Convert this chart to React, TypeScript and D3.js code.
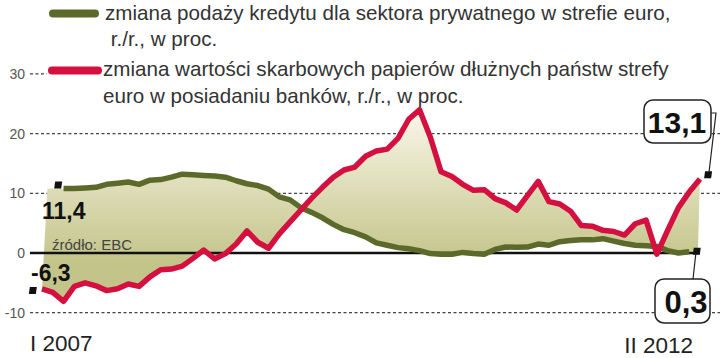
import React from "react";
import * as d3 from "d3";

// ---- data (monthly, month 0 = I 2007, month 61 = II 2012) ----
const redValues: number[] = [
  -6.0, -6.6, -8.1, -5.6, -5.0, -5.5, -6.3, -6.0, -5.2, -5.6,
  -4.0, -2.8, -2.7, -2.2, -0.9, 0.5, -1.0, -0.1, 1.5, 3.7,
  1.8, 0.8, 3.2, 5.2, 7.2, 9.2, 11.0, 12.7, 13.9, 14.4,
  16.2, 17.1, 17.4, 19.2, 22.4, 24.0, 19.4, 13.6, 12.8, 11.5,
  10.5, 10.6, 9.1, 8.4, 7.2, 9.6, 12.0, 8.6, 8.2, 7.0,
  4.6, 4.5, 3.8, 3.6, 3.0, 4.9, 5.5, -0.2, 3.8, 7.6,
  10.2, 12.4,
];
const greenStartMonth = 2;
const greenValues: number[] = [
  10.8, 10.8, 10.9, 11.0, 11.5, 11.7, 11.9, 11.5, 12.2, 12.3,
  12.7, 13.2, 13.1, 13.0, 12.9, 12.7, 12.1, 11.6, 11.3, 10.7,
  9.4, 8.9, 7.6, 6.8, 5.9, 4.8, 3.9, 3.4, 2.7, 1.7,
  1.3, 0.9, 0.7, 0.4, -0.1, -0.2, -0.2, 0.1, -0.1, -0.2,
  0.6, 1.0, 0.95, 1.0, 1.5, 1.3, 1.9, 2.1, 2.2, 2.2,
  2.4, 2.0, 1.6, 1.3, 1.2, 1.1, 0.4, 0.0, 0.2,
];
const yTicks: number[] = [30, 20, 10, -10];
const yTickLabels: string[] = ["30", "20", "10", "0", "-10"];
const yLabelValues: number[] = [30, 20, 10, 0, -10];
const xLabels: string[] = ["I 2007", "II 2012"];
const legendGreen: string[] = [
  "zmiana podaży kredytu dla sektora prywatnego w strefie euro,",
  " r./r., w proc.",
];
const legendRed: string[] = [
  "zmiana wartości skarbowych papierów dłużnych państw strefy",
  "euro w posiadaniu banków, r./r., w proc.",
];
const firstGreenLabel = { value: 11.4, text: "11,4" };
const firstRedLabel = { value: -6.3, text: "-6,3" };
const lastRedLabel = { value: 13.1, text: "13,1" };
const lastGreenLabel = { value: 0.3, text: "0,3" };
const sourceText = "źródło: EBC";

const W = 720;
const H = 358;
const GREEN = "#5b6a2a";
const RED = "#d3103f";
const FONT = "'Liberation Sans', Arial, sans-serif";

export default function App() {
  const x = d3.scaleLinear().domain([0, redValues.length - 1]).range([42, 700]);
  const y = d3.scaleLinear().domain([-10, 30]).range([312.7, 73.9]);

  type P = { m: number; v: number };
  const redPts: P[] = redValues.map((v, i) => ({ m: i, v }));
  const greenPts: P[] = greenValues.map((v, i) => ({ m: greenStartMonth + i, v }));

  const line = d3
    .line<P>()
    .x((d) => x(d.m))
    .y((d) => y(d.v));

  const fillTop: P[] = [
    { m: 0.5, v: greenValues[0] },
    ...greenPts,
    { m: redValues.length - 1.2, v: greenValues[greenValues.length - 1] },
  ];
  const fillPts = fillTop.concat(redPts.slice().reverse());
  const fillPath = line(fillPts) + "Z";

  const gridX0 = 30;
  const marker = (cx: number, cy: number, key: string) => (
    <rect
      key={key}
      x={cx - 3.5}
      y={cy - 3.5}
      width={7}
      height={7}
      fill="#111"
      transform={`skewX(-8) translate(${cy * Math.tan((8 * Math.PI) / 180)},0)`}
    />
  );

  const mFirstGreen = { x: x(1.5), y: y(firstGreenLabel.value) };
  const mFirstRed = { x: x(-0.85), y: y(firstRedLabel.value) };
  const mLastRed = { x: x(61.75), y: y(lastRedLabel.value) };
  const mLastGreen = { x: x(60.7), y: y(lastGreenLabel.value) };

  return (
    <div style={{ position: "absolute", left: 0, top: 0 }}>
      <svg width={W} height={H} style={{ display: "block", background: "#fff" }}>
        <defs>
          <linearGradient id="fillGrad" gradientUnits="userSpaceOnUse" x1={0} y1={105} x2={0} y2={262}>
            <stop offset="0" stopColor="#fbf9ec" />
            <stop offset="1" stopColor="#c3c48a" />
          </linearGradient>
        </defs>

        {/* gridlines */}
        {yTicks.map((t) => (
          <line
            key={t}
            x1={gridX0}
            x2={t === 30 ? 47 : W}
            y1={y(t)}
            y2={y(t)}
            stroke="#444"
            strokeWidth={1.2}
            strokeDasharray="3,2.5"
          />
        ))}

        {/* y tick labels */}
        {yLabelValues.map((v, i) => (
          <text
            key={v}
            x={25}
            y={y(v) + 5}
            textAnchor="end"
            fontFamily={FONT}
            fontSize={14}
            fill="#555"
          >
            {yTickLabels[i]}
          </text>
        ))}

        {/* fill between series */}
        <path d={fillPath} fill="url(#fillGrad)" />

        {/* zero line */}
        <line x1={gridX0} x2={700} y1={y(0)} y2={y(0)} stroke="#111" strokeWidth={2.5} />

        <text x={52} y={250} fontFamily={FONT} fontSize={15} fill="#444">
          {sourceText}
        </text>

        {/* series lines */}
        <path
          d={line(greenPts) || ""}
          fill="none"
          stroke={GREEN}
          strokeWidth={5.5}
          strokeLinejoin="round"
        />
        <path
          d={line(redPts) || ""}
          fill="none"
          stroke={RED}
          strokeWidth={5.5}
          strokeLinejoin="round"
        />

        {/* legend */}
        <line x1={53} x2={95} y1={13.5} y2={13.5} stroke={GREEN} strokeWidth={8} strokeLinecap="round" />
        <line x1={52} x2={98} y1={70.5} y2={70.5} stroke={RED} strokeWidth={8} strokeLinecap="round" />
        {legendGreen.map((s, i) => (
          <text key={s} x={105} y={19.5 + i * 26} fontFamily={FONT} fontSize={20.6} fill="#333" style={{ whiteSpace: "pre" }}>
            {s}
          </text>
        ))}
        {legendRed.map((s, i) => (
          <text key={s} x={103} y={75.5 + i * 27} fontFamily={FONT} fontSize={20.6} fill="#333">
            {s}
          </text>
        ))}

        {/* start annotations */}
        {marker(mFirstGreen.x, mFirstGreen.y, "m1")}
        {marker(mFirstRed.x, mFirstRed.y, "m2")}
        <text x={42} y={219} fontFamily={FONT} fontWeight="bold" fontSize={23} fill="#111">
          {firstGreenLabel.text}
        </text>
        <text x={31} y={281} fontFamily={FONT} fontWeight="bold" fontSize={23} fill="#111">
          {firstRedLabel.text}
        </text>

        {/* end annotations */}
        {marker(mLastRed.x, mLastRed.y, "m3")}
        {marker(mLastGreen.x, mLastGreen.y, "m4")}
        <polyline
          points={`711,113 716,113 ${mLastRed.x + 1},${mLastRed.y - 3}`}
          fill="none"
          stroke="#222"
          strokeWidth={1.2}
        />
        <line x1={mLastGreen.x - 1} y1={mLastGreen.y + 3} x2={693} y2={279} stroke="#222" strokeWidth={1.2} />
        <rect x={644} y={100} width={67} height={43} rx={9} fill="#fff" stroke="#222" strokeWidth={1.5} />
        <text x={677} y={133} textAnchor="middle" fontFamily={FONT} fontWeight="bold" fontSize={30} fill="#111">
          {lastRedLabel.text}
        </text>
        <rect x={655} y={279} width={55} height={44} rx={9} fill="#fff" stroke="#222" strokeWidth={1.5} />
        <text x={686} y={313} textAnchor="middle" fontFamily={FONT} fontWeight="bold" fontSize={31} fill="#111">
          {lastGreenLabel.text}
        </text>

        {/* x labels */}
        <text x={30} y={351} fontFamily={FONT} fontSize={22.5} fill="#222">
          {xLabels[0]}
        </text>
        <text x={693} y={353} textAnchor="end" fontFamily={FONT} fontSize={22.5} fill="#222">
          {xLabels[1]}
        </text>
      </svg>
    </div>
  );
}
